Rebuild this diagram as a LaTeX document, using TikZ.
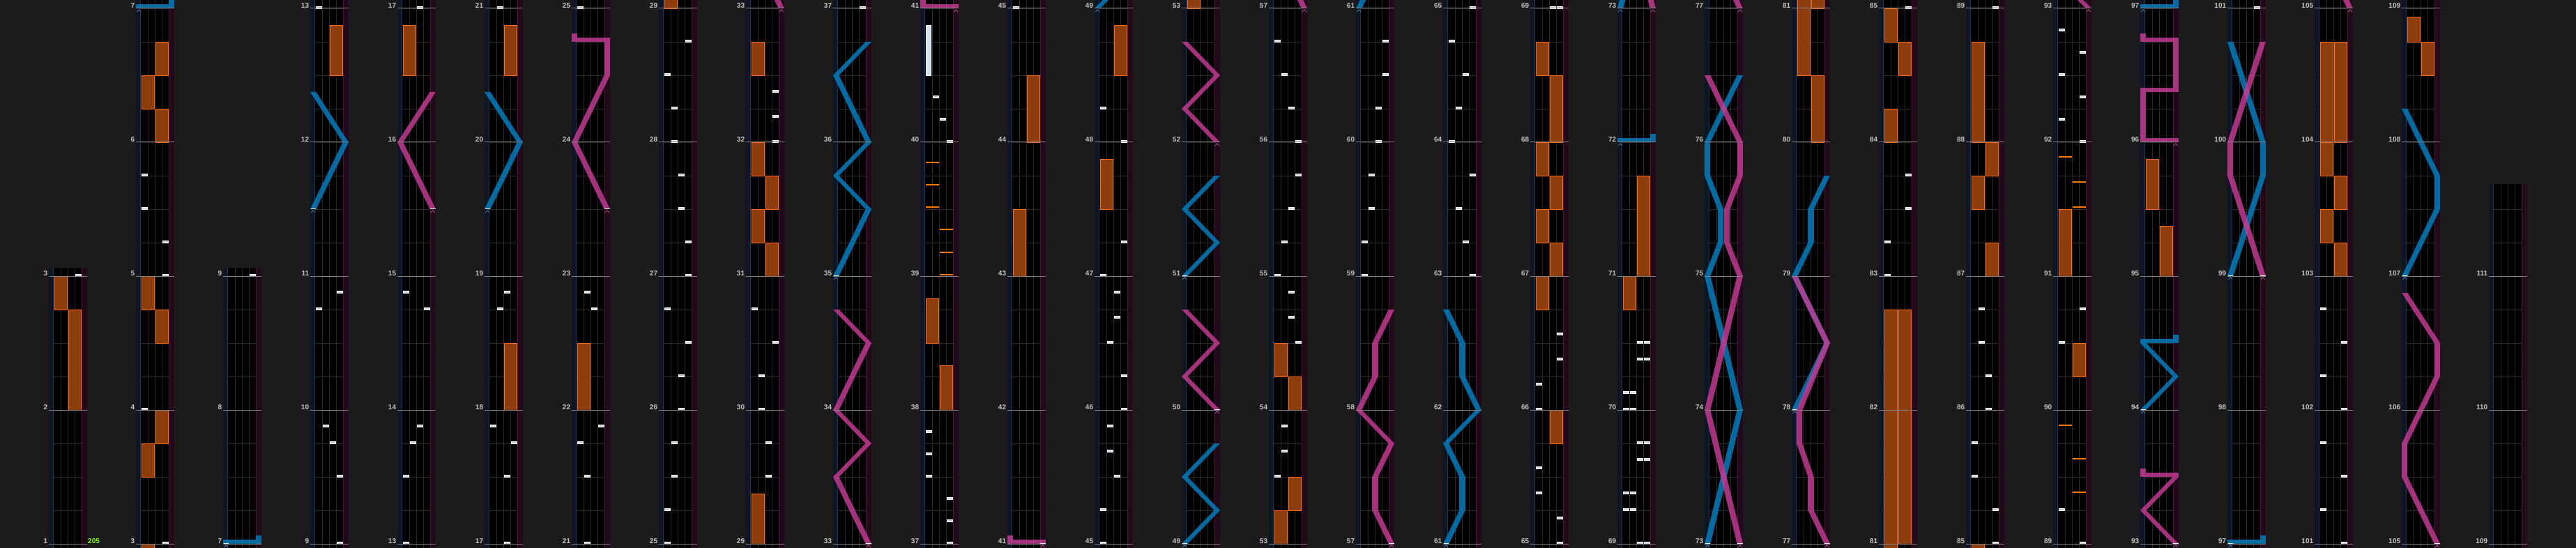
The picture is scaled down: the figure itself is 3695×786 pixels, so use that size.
\documentclass[tikz,border=0pt]{standalone}
\usepackage{fontspec}
\setmainfont{Liberation Sans}
\definecolor{bgc}{RGB}{27,27,27}
\definecolor{llane}{RGB}{14,22,38}
\definecolor{lstripe}{RGB}{30,55,85}
\definecolor{rlane}{RGB}{34,9,26}
\definecolor{rstripe}{RGB}{75,22,56}
\definecolor{beatc}{RGB}{44,44,44}
\definecolor{divc}{RGB}{40,40,40}
\definecolor{mlinec}{RGB}{128,128,128}
\definecolor{lblc}{RGB}{196,196,196}
\definecolor{chipfill}{RGB}{205,216,228}
\definecolor{fxfill}{RGB}{142,62,12}
\definecolor{fxedge}{RGB}{255,106,16}
\definecolor{fxchipc}{RGB}{255,122,0}
\definecolor{bthfill}{RGB}{205,228,242}
\definecolor{bl}{RGB}{0,125,190}
\definecolor{pk}{RGB}{195,58,148}
\definecolor{blm}{RGB}{60,140,200}
\definecolor{pkm}{RGB}{200,80,160}
\definecolor{bpmc}{RGB}{128,255,0}
\tikzset{
 lbl/.style={text=lblc, font=\fontsize{10}{10}\selectfont\bfseries, anchor=base east, inner sep=0pt},
 bpm/.style={text=bpmc, font=\fontsize{10}{10}\selectfont\bfseries, anchor=base west, inner sep=0pt},
 chipbox/.style={fill=chipfill, draw=white, line width=0.6pt},
 fxhold/.style={fill=fxfill, draw=fxedge, line width=0.9pt},
 fxchip/.style={fill=fxchipc},
 bthold/.style={fill=bthfill, draw=white, line width=0.8pt},
 lsr/.style={fill opacity=0.85},
 beat/.style={draw=beatc, line width=0.9pt},
 lanediv/.style={draw=divc, line width=0.9pt},
 mline/.style={draw=mlinec, line width=1pt},
}
% ---------- note macros (m = measure, t = tick 0..191 upward) ----------
\newcommand\chip[3]{%
  \edef\La{\the\numexpr192*(#1-1)+#2-\Pzero\relax}%
  \ifnum\La>-10 \ifnum\La<\numexpr\Ptop+10\relax
    \path[chipbox] ({\Xo+10*#3-2.0}, \La-780.2) rectangle ({\Xo+10*#3+6.4}, \La-777);
  \fi\fi}
\newcommand\fxh[4]{%
  \edef\La{\the\numexpr192*(#1-1)+#2-\Pzero\relax}%
  \edef\Lb{\the\numexpr\La+#3\relax}%
  \ifnum\Lb>-10 \ifnum\La<\numexpr\Ptop+10\relax
    \path[fxhold] ({\Xo+8+20*#4}, \La-780) rectangle ({\Xo+26.6+20*#4}, \Lb-780);
  \fi\fi}
\newcommand\fxc[3]{%
  \edef\La{\the\numexpr192*(#1-1)+#2-\Pzero\relax}%
  \ifnum\La>-10 \ifnum\La<\numexpr\Ptop+10\relax
    \fill[fxchip] ({\Xo+8+20*#3}, \La-778.5) rectangle ({\Xo+26.6+20*#3}, \La-776.5);
  \fi\fi}
\newcommand\bth[4]{%
  \edef\La{\the\numexpr192*(#1-1)+#2-\Pzero\relax}%
  \edef\Lb{\the\numexpr\La+#3\relax}%
  \ifnum\Lb>-10 \ifnum\La<\numexpr\Ptop+10\relax
    \path[bthold] ({\Xo+10*#4-1.2}, \La-780) rectangle ({\Xo+10*#4+5.6}, \Lb-780);
  \fi\fi}
\newcommand\lseg[7]{%
  \edef\La{\the\numexpr192*(#2-1)+#3-\Pzero\relax}%
  \edef\Lb{\the\numexpr192*(#5-1)+#6-\Pzero\relax}%
  \ifnum\Lb>-20 \ifnum\La<\numexpr\Ptop+20\relax
    \fill[lsr,fill=#1] ({\Xo+46.6*#4}, \La-780) -- ({\Xo+8.4+46.6*#4}, \La-780)
      -- ({\Xo+8.4+46.6*#7}, \Lb-780) -- ({\Xo+46.6*#7}, \Lb-780) -- cycle;
  \fi\fi}
\newcommand\lslam[5]{%
  \edef\La{\the\numexpr192*(#2-1)+#3-\Pzero\relax}%
  \ifnum\La>-20 \ifnum\La<\numexpr\Ptop+20\relax
    \fill[lsr,fill=#1] ({\Xo+46.6*min(#4,#5)}, \La-780) rectangle ({\Xo+8.4+46.6*max(#4,#5)}, \La-774);
  \fi\fi}
\newcommand\ltail[4]{%
  \edef\La{\the\numexpr192*(#2-1)+#3-\Pzero\relax}%
  \ifnum\La>-20 \ifnum\La<\numexpr\Ptop+20\relax
    \fill[lsr,fill=#1] ({\Xo+46.6*#4}, \La-774) rectangle ({\Xo+8.4+46.6*#4}, \La-768);
  \fi\fi}
\newcommand\lstart[4]{%
  \edef\La{\the\numexpr192*(#2-1)+#3-\Pzero\relax}%
  \ifnum\La>-20 \ifnum\La<\numexpr\Ptop+20\relax
    \draw[white, line width=0.9pt] ({\Xo+46.6*#4+0.5}, \La-779.6) -- ({\Xo+46.6*#4+7.9}, \La-779.6);
    \draw[#1m, line width=0.7pt] ({\Xo+46.6*#4+1.2}, \La-785) -- ({\Xo+46.6*#4+4.2}, \La-781.8) -- ({\Xo+46.6*#4+7.2}, \La-785);
  \fi\fi}
% laser polyline: \laser{color}{m/t/p;m/t/p;...}
\def\lzendmark{\lzend}
\def\laser#1#2{\def\lzc{#1}\lzfirst#2;\lzend;}
\def\lzfirst#1/#2/#3;{\def\zm{#1}\def\zt{#2}\def\zp{#3}\lznext}
\def\lznext#1;{\def\lzarg{#1}\ifx\lzarg\lzendmark\let\lzgo\relax\else\expandafter\lzstep\lzarg;\let\lzgo\lznext\fi\lzgo}
\def\lzstep#1/#2/#3;{\lseg{\lzc}{\zm}{\zt}{\zp}{#1}{#2}{#3}\def\zm{#1}\def\zt{#2}\def\zp{#3}}
% ---------- the chart ----------
\def\chartnotes{%
 \fxh{2}{0}{144}{1}\fxh{2}{144}{48}{0}%
 \fxh{3}{96}{48}{0}\fxh{3}{144}{48}{1}\fxh{4}{96}{48}{1}\fxh{4}{144}{48}{0}%
 \fxh{6}{0}{48}{1}\fxh{6}{48}{48}{0}\fxh{6}{96}{48}{1}%
 \fxh{12}{96}{72}{1}\fxh{16}{96}{72}{0}\fxh{18}{0}{96}{1}\fxh{20}{96}{72}{1}\fxh{22}{0}{96}{0}%
 \fxh{29}{0}{72}{0}%
 \fxh{31}{0}{48}{1}\fxh{31}{48}{48}{0}\fxh{31}{96}{48}{1}\fxh{31}{144}{48}{0}\fxh{32}{96}{48}{0}%
 \fxh{38}{0}{64}{1}\fxh{38}{96}{64}{0}%
 \fxh{43}{0}{96}{0}\fxh{44}{0}{96}{1}%
 \fxh{47}{96}{72}{0}\fxh{48}{96}{72}{1}%
 \fxh{53}{0}{48}{0}\fxh{53}{48}{48}{1}\fxh{54}{0}{48}{1}\fxh{54}{48}{48}{0}%
 \fxh{65}{144}{48}{1}\fxh{66}{144}{48}{0}\fxh{67}{0}{48}{1}\fxh{67}{48}{48}{0}\fxh{67}{96}{48}{1}\fxh{67}{144}{48}{0}\fxh{68}{0}{96}{1}\fxh{68}{96}{48}{0}%
 \fxh{70}{144}{48}{0}\fxh{71}{0}{144}{1}%
 \fxh{80}{0}{96}{1}\fxh{80}{96}{432}{0}\fxh{81}{0}{336}{1}%
 \fxh{84}{0}{48}{0}\fxh{84}{96}{48}{1}\fxh{84}{144}{48}{0}%
 \fxh{87}{0}{48}{1}\fxh{87}{96}{48}{0}\fxh{87}{144}{48}{1}\fxh{88}{0}{144}{0}%
 \fxh{90}{48}{48}{1}\fxh{91}{0}{96}{0}%
 \fxh{95}{0}{72}{1}\fxh{95}{96}{72}{0}%
 \fxh{103}{0}{48}{1}\fxh{103}{48}{48}{0}\fxh{103}{96}{48}{1}\fxh{103}{144}{48}{0}\fxh{104}{0}{144}{0}\fxh{104}{0}{144}{1}%
 \fxh{108}{96}{48}{1}\fxh{108}{144}{36}{0}%
 \bth{40}{96}{72}{1}%
 \fxc{39}{0}{1}\fxc{39}{32}{1}\fxc{39}{64}{1}\fxc{39}{96}{0}\fxc{39}{128}{0}\fxc{39}{160}{0}%
 \fxc{89}{72}{1}\fxc{89}{120}{1}\fxc{89}{168}{0}%
 \fxc{91}{96}{1}\fxc{91}{132}{1}\fxc{91}{168}{0}%
 \chip{3}{0}{4}\chip{4}{0}{1}%
 \chip{5}{0}{4}\chip{5}{48}{4}\chip{5}{96}{1}\chip{5}{144}{1}%
 \chip{9}{0}{4}\chip{9}{96}{4}\chip{9}{144}{3}\chip{9}{168}{2}\chip{10}{144}{1}\chip{10}{168}{4}%
 \chip{13}{0}{1}\chip{13}{96}{1}\chip{13}{144}{2}\chip{13}{168}{3}\chip{14}{144}{4}\chip{14}{168}{1}%
 \chip{17}{0}{3}\chip{17}{96}{3}\chip{17}{144}{4}\chip{17}{168}{1}\chip{18}{144}{2}\chip{18}{168}{3}%
 \chip{21}{0}{2}\chip{21}{96}{2}\chip{21}{144}{1}\chip{21}{168}{4}\chip{22}{144}{3}\chip{22}{168}{2}%
 \chip{25}{0}{1}\chip{25}{48}{1}\chip{25}{96}{2}\chip{25}{144}{2}%
 \chip{26}{0}{3}\chip{26}{48}{3}\chip{26}{96}{4}\chip{26}{144}{1}%
 \chip{27}{0}{4}\chip{27}{48}{4}\chip{27}{96}{3}\chip{27}{144}{3}%
 \chip{28}{0}{2}\chip{28}{48}{2}\chip{28}{96}{1}\chip{28}{144}{4}%
 \chip{29}{96}{3}\chip{29}{144}{3}%
 \chip{30}{0}{2}\chip{30}{48}{2}\chip{30}{96}{4}\chip{30}{144}{1}%
 \chip{32}{0}{4}\chip{32}{36}{4}\chip{32}{72}{4}%
 \chip{37}{0}{4}\chip{37}{32}{4}\chip{37}{64}{4}\chip{37}{96}{1}\chip{37}{128}{1}\chip{37}{160}{1}%
 \chip{40}{0}{4}\chip{40}{32}{3}\chip{40}{64}{2}%
 \chip{45}{0}{1}\chip{45}{48}{1}\chip{45}{96}{3}\chip{45}{132}{2}\chip{45}{168}{2}%
 \chip{46}{0}{4}\chip{46}{48}{4}\chip{46}{96}{2}\chip{46}{132}{3}\chip{46}{168}{3}%
 \chip{47}{0}{1}\chip{47}{48}{4}\chip{48}{0}{4}\chip{48}{48}{1}%
 \chip{53}{96}{1}\chip{53}{132}{2}\chip{53}{168}{2}%
 \chip{54}{96}{4}\chip{54}{132}{3}\chip{54}{168}{3}%
 \chip{55}{0}{1}\chip{55}{48}{2}\chip{55}{96}{3}\chip{55}{144}{4}%
 \chip{56}{0}{4}\chip{56}{48}{3}\chip{56}{96}{2}\chip{56}{144}{1}%
 \chip{59}{0}{1}\chip{59}{48}{1}\chip{59}{96}{2}\chip{59}{144}{2}%
 \chip{60}{0}{3}\chip{60}{48}{3}\chip{60}{96}{4}\chip{60}{144}{4}%
 \chip{63}{0}{4}\chip{63}{48}{3}\chip{63}{96}{2}\chip{63}{144}{4}%
 \chip{64}{0}{1}\chip{64}{48}{2}\chip{64}{96}{3}\chip{64}{144}{1}%
 \chip{65}{0}{4}\chip{65}{36}{4}\chip{65}{72}{1}\chip{65}{108}{1}%
 \chip{66}{0}{1}\chip{66}{36}{1}\chip{66}{72}{4}\chip{66}{108}{4}%
 \chip{69}{0}{3}\chip{69}{0}{4}\chip{69}{48}{1}\chip{69}{48}{2}\chip{69}{72}{1}\chip{69}{72}{2}\chip{69}{120}{3}\chip{69}{120}{4}\chip{69}{144}{3}\chip{69}{144}{4}%
 \chip{70}{0}{1}\chip{70}{0}{2}\chip{70}{24}{1}\chip{70}{24}{2}\chip{70}{72}{3}\chip{70}{72}{4}\chip{70}{96}{3}\chip{70}{96}{4}%
 \chip{83}{0}{1}\chip{83}{48}{1}\chip{83}{96}{4}\chip{83}{144}{4}%
 \chip{85}{0}{4}\chip{85}{48}{4}\chip{85}{96}{1}\chip{85}{144}{1}%
 \chip{86}{0}{3}\chip{86}{48}{3}\chip{86}{96}{2}\chip{86}{144}{2}%
 \chip{89}{0}{4}\chip{89}{48}{1}\chip{90}{96}{1}\chip{90}{144}{4}%
 \chip{92}{0}{4}\chip{92}{32}{1}\chip{92}{64}{4}\chip{92}{96}{1}\chip{92}{128}{4}\chip{92}{160}{1}%
 \chip{101}{0}{4}\chip{101}{48}{1}\chip{101}{96}{4}\chip{101}{144}{1}%
 \chip{102}{0}{4}\chip{102}{48}{1}\chip{102}{96}{4}\chip{102}{144}{1}%
 % lasers
 \lslam{bl}{7}{0}{0}{1}\ltail{bl}{7}{0}{1}\lstart{bl}{7}{0}{0}%
 \laser{bl}{11/96/0;12/0/1;12/72/0}\lstart{bl}{11}{96}{0}%
 \laser{pk}{15/96/1;16/0/0;16/72/1}\lstart{pk}{15}{96}{1}%
 \laser{bl}{19/96/0;20/0/1;20/72/0}\lstart{bl}{19}{96}{0}%
 \laser{pk}{23/96/1;24/0/0;24/96/1;24/144/1}\lslam{pk}{24}{144}{1}{0}\ltail{pk}{24}{144}{0}\lstart{pk}{23}{96}{1}%
 \laser{pk}{33/0/1;33/96/0;33/144/1;34/0/0;34/96/1;34/144/0}\lstart{pk}{33}{0}{1}%
 \laser{bl}{35/0/0;35/96/1;35/144/0;36/0/1;36/96/0;36/144/1}\lstart{bl}{35}{0}{0}%
 \lslam{pk}{41}{0}{1}{0}\ltail{pk}{41}{0}{0}\lstart{pk}{41}{0}{1}%
 \laser{bl}{49/0/0;49/48/1;49/96/0;49/144/1}\lstart{bl}{49}{0}{0}%
 \laser{pk}{50/0/1;50/48/0;50/96/1;50/144/0}\lstart{pk}{50}{0}{1}%
 \laser{bl}{51/0/0;51/48/1;51/96/0;51/144/1}\lstart{bl}{51}{0}{0}%
 \laser{pk}{52/0/1;52/48/0;52/96/1;52/144/0}\lstart{pk}{52}{0}{1}%
 \laser{pk}{57/0/1;57/48/0.5;57/96/0.5;57/144/1;58/0/0;58/48/0.5;58/96/0.5;58/144/1}\lstart{pk}{57}{0}{1}%
 \laser{bl}{61/0/0;61/48/0.5;61/96/0.5;61/144/0;62/0/1;62/48/0.5;62/96/0.5;62/144/0}\lstart{bl}{61}{0}{0}%
 \lslam{bl}{72}{0}{0}{1}\ltail{bl}{72}{0}{1}\lstart{bl}{72}{0}{0}%
 \laser{bl}{73/0/0;74/0/1;75/0/0;75/48/0.4;75/96/0.4;75/144/0;76/0/0;76/96/1}\lstart{bl}{73}{0}{0}%
 \laser{pk}{73/0/1;74/0/0;75/0/1;75/48/0.6;75/96/0.6;75/144/1;76/0/1;76/96/0}\lstart{pk}{73}{0}{1}%
 \laser{bl}{78/0/0;78/96/1;79/0/0;79/48/0.5;79/96/0.5;79/144/1}\lstart{bl}{78}{0}{0}%
 \laser{pk}{77/0/1;77/48/0.5;77/96/0.5;77/144/0.15;78/0/0.15;78/96/1;79/0/0}\lstart{pk}{77}{0}{1}%
 \laser{pk}{93/0/1;93/48/0;93/96/1}\lslam{pk}{93}{96}{1}{0}\ltail{pk}{93}{96}{0}\lstart{pk}{93}{0}{1}%
 \laser{bl}{94/0/0;94/48/1;94/96/0}\lslam{bl}{94}{96}{0}{1}\ltail{bl}{94}{96}{1}\lstart{bl}{94}{0}{0}%
 \lslam{pk}{96}{0}{1}{0}\laser{pk}{96/6/0;96/72/0}\lslam{pk}{96}{72}{0}{1}\laser{pk}{96/78/1;96/144/1}\lslam{pk}{96}{144}{1}{0}\ltail{pk}{96}{144}{0}\lstart{pk}{96}{0}{1}%
 \lslam{bl}{97}{0}{0}{1}\ltail{bl}{97}{0}{1}\lstart{bl}{97}{0}{0}%
 \laser{bl}{99/0/0;99/144/1;100/0/1;100/144/0}\lstart{bl}{99}{0}{0}%
 \laser{pk}{99/0/1;99/144/0;100/0/0;100/144/1}\lstart{pk}{99}{0}{1}%
 \laser{pk}{105/0/1;105/96/0;105/144/0;106/48/1;106/96/1;106/168/0}\lstart{pk}{105}{0}{1}%
 \laser{bl}{107/0/0;107/96/1;107/144/1;108/48/0}\lstart{bl}{107}{0}{0}%
}
\begin{document}
\begin{tikzpicture}[x=1pt,y=1pt]
\useasboundingbox (0,0) rectangle (3695,-786);
\fill[bgc] (0,0) rectangle (3695,-786);
\foreach \k/\mz/\tp in {0/1/396,1/3/780,2/7/396,3/9/780,4/13/780,5/17/780,6/21/780,7/25/780,8/29/780,9/33/780,10/37/780,11/41/780,12/45/780,13/49/780,14/53/780,15/57/780,16/61/780,17/65/780,18/69/780,19/73/780,20/77/780,21/81/780,22/85/780,23/89/780,24/93/780,25/97/780,26/101/780,27/105/780,28/109/516}{
  \edef\Xo{\the\numexpr70+125*\k\relax}
  \edef\Pzero{\the\numexpr192*(\mz-1)\relax}
  \edef\Ptop{\tp}
  \fill[llane] (\Xo,-786) rectangle ({\Xo+7.3},\Ptop-780);
  \fill[lstripe] ({\Xo+6.2},-786) rectangle ({\Xo+7.3},\Ptop-780);
  \fill[black] ({\Xo+7.3},-786) rectangle ({\Xo+47.3},\Ptop-780);
  \fill[rlane] ({\Xo+47.3},-786) rectangle ({\Xo+55},\Ptop-780);
  \fill[rstripe] ({\Xo+47.3},-786) rectangle ({\Xo+48.4},\Ptop-780);
  \pgfmathtruncatemacro\nb{\Ptop/48}
  \foreach \j in {0,...,\nb}{\draw[beat] ({\Xo+7.3},48*\j-780) -- ({\Xo+47.3},48*\j-780);}
  \foreach \xx in {17.3,27.3,37.3}{\draw[lanediv] ({\Xo+\xx},-786) -- ({\Xo+\xx},\Ptop-780);}
  \begin{scope}
    \clip (\Xo,-786) rectangle ({\Xo+55},\Ptop-780);
    \chartnotes
  \end{scope}
  \pgfmathtruncatemacro\nm{\Ptop/192}
  \foreach \i in {0,...,\nm}{
    \draw[mline] (\Xo,192*\i-780) -- ({\Xo+55},192*\i-780);
    \pgfmathtruncatemacro\mm{\mz+\i}
    \node[lbl] (lab\k-\i) at ({\Xo-1.7},192*\i-779.4) {\mm};
  }
}
\node[bpm] (bpm) at (126,-779.4) {205};
\end{tikzpicture}
\end{document}
